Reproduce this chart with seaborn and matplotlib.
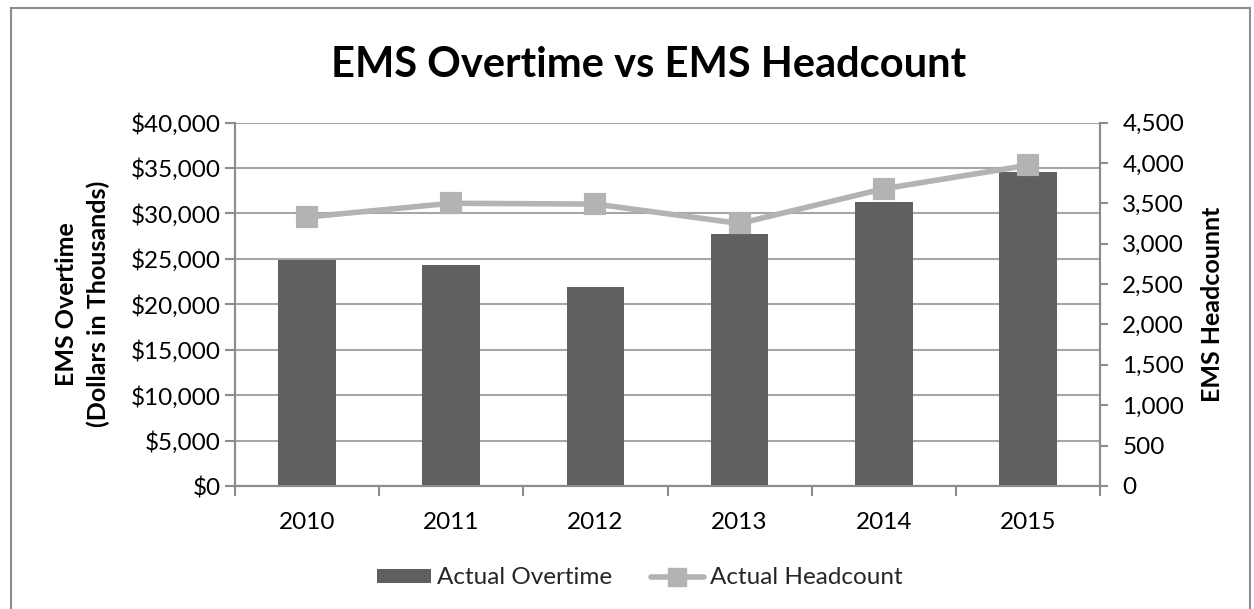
import matplotlib
matplotlib.use("Agg")
import matplotlib.pyplot as plt
import seaborn as sns
import pandas as pd
from matplotlib.patches import Rectangle
from matplotlib.lines import Line2D
from matplotlib.ticker import FuncFormatter, MultipleLocator

years = ["2010", "2011", "2012", "2013", "2014", "2015"]
overtime = [24900, 24300, 21900, 27700, 31300, 34500]
headcount = [3330, 3500, 3490, 3250, 3680, 3970]

sns.set_theme(style="white")
plt.rcParams['font.family'] = ['Lato', 'DejaVu Sans']

BAR = "#606060"
LINE = "#B3B3B3"
GRID = "#A6A6A6"
SPINE = "#8C8C8C"
TXT = "#000000"

fig = plt.figure(figsize=(12.54, 6.09), dpi=100)
ax = fig.add_axes([235/1254, 1-486/609, 865/1254, 363.5/609])
ax2 = ax.twinx()

df = pd.DataFrame({"year": years, "overtime": overtime, "headcount": headcount})

sns.barplot(data=df, x="year", y="overtime", color=BAR, width=0.4, ax=ax,
            saturation=1, zorder=2)
for p in ax.patches:
    p.set_edgecolor("none")
sns.pointplot(data=df, x="year", y="headcount", color=LINE, markers="s",
              markersize=13.5, linewidth=4, ax=ax2, errorbar=None)

ax.set_ylim(0, 40000)
ax2.set_ylim(0, 4500)
ax.set_xlim(-0.5, 5.5)
ax.yaxis.set_major_locator(MultipleLocator(5000))
ax2.yaxis.set_major_locator(MultipleLocator(500))
ax.yaxis.set_major_formatter(FuncFormatter(lambda v, p: f"${v:,.0f}"))
ax2.yaxis.set_major_formatter(FuncFormatter(lambda v, p: f"{v:,.0f}"))

ax.grid(axis="y", color=GRID, linewidth=1.5, zorder=0)
ax.set_axisbelow(True)
ax2.grid(False)

for a in (ax, ax2):
    for s in a.spines.values():
        s.set_color(SPINE)
        s.set_linewidth(1.5)
    a.spines["top"].set_visible(False)

ax.set_xlabel("")
ax.set_ylabel("EMS Overtime\n(Dollars in Thousands)", fontsize=18, fontweight="bold",
              color=TXT, labelpad=15, linespacing=1.45)
ax2.set_ylabel("EMS Headcounnt", fontsize=18, fontweight="bold", color=TXT, labelpad=12)

# x ticks at category boundaries, labels at centers
ax.set_xticks([i + 0.5 for i in range(-1, 6)], minor=False)
ax.set_xticklabels([])
ax.set_xticks(range(6), minor=True)
ax.set_xticklabels(years, minor=True)
ax.tick_params(axis="x", which="major", bottom=True, length=7, width=1.5, color=SPINE, direction="out")
ax.tick_params(axis="x", which="minor", bottom=False, length=0, labelsize=17.5, labelcolor=TXT, pad=19)
ax.tick_params(axis="y", left=True, length=7, width=1.5, color=SPINE, direction="out",
               labelsize=17.5, labelcolor=TXT, pad=3)
ax2.tick_params(axis="y", right=True, length=6, width=1.5, color=SPINE, direction="out",
                labelsize=17.5, labelcolor=TXT, pad=10)

fig.text(649/1254, 1-65/609, "EMS Overtime vs EMS Headcount", ha="center", va="center",
         fontsize=30, fontweight="bold", color=TXT)

# outer chart border
fig.patches.append(Rectangle((11/1254, -0.05), (1254-11)/1254 - 0.003, 1-8/609 + 0.05,
                             transform=fig.transFigure, fill=False, edgecolor=SPINE,
                             linewidth=1.5))

handles = [Rectangle((0, 0), 1, 1, facecolor=BAR, edgecolor="none"),
           Line2D([0], [0], color=LINE, marker="s", markersize=13, linewidth=4)]
fig.legend(handles, ["Actual Overtime", "Actual Headcount"], loc="center",
           bbox_to_anchor=(640/1254, 1-578/609), ncol=2, frameon=False, fontsize=17.5,
           handlelength=2.2, handleheight=0.5, handletextpad=0.25, columnspacing=1.6)

fig.savefig("out.png", dpi=100)
